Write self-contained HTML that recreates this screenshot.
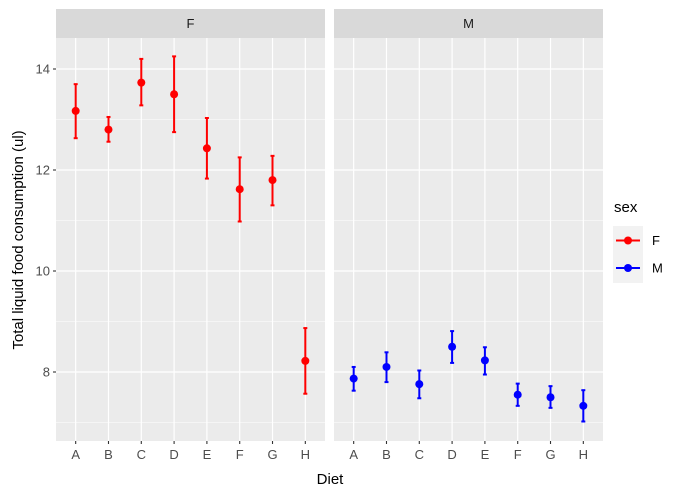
<!DOCTYPE html>
<html><head><meta charset="utf-8">
<style>
body{margin:0;background:#fff;font-family:"Liberation Sans",Arial,sans-serif;}
svg{display:block}
</style></head>
<body>
<svg id="chart" width="699" height="495" xmlns="http://www.w3.org/2000/svg"></svg>
<script>
const categories=["A","B","C","D","E","F","G","H"];
const meanF=[13.17,12.8,13.73,13.5,12.43,11.62,11.8,8.22];
const lowF=[12.63,12.56,13.28,12.75,11.83,10.98,11.3,7.57];
const highF=[13.7,13.05,14.2,14.25,13.03,12.25,12.28,8.87];
const meanM=[7.87,8.1,7.76,8.5,8.23,7.55,7.5,7.33];
const lowM=[7.63,7.8,7.48,8.18,7.95,7.33,7.29,7.02];
const highM=[8.1,8.39,8.03,8.81,8.49,7.77,7.72,7.64];
const yTicks=[8,10,12,14];
const yMinor=[7,9,11,13];

const svg=document.getElementById('chart');
const NS='http://www.w3.org/2000/svg';
function mk(tag,attrs,parent){const e=document.createElementNS(NS,tag);for(const k in attrs)e.setAttribute(k,attrs[k]);(parent||svg).appendChild(e);return e;}
const plotTop=38,plotBottom=441;
function y(v){return 372-(v-8)*50.5;}
const panels=[{name:'F',x0:56,x1:325,mean:meanF,low:lowF,high:highF,col:'#ff0000'},
              {name:'M',x0:334,x1:603,mean:meanM,low:lowM,high:highM,col:'#0000ff'}];
panels.forEach((p,pi)=>{
  const step=(p.x1-p.x0)/(categories.length-1+1.2);
  const x=i=>p.x0+(0.6+i)*step;
  const g=mk('g',{});
  
  
  const bg=mk('rect',{x:p.x0,y:plotTop,width:p.x1-p.x0,height:plotBottom-plotTop,fill:'#ebebeb'},g);
  
  
  yMinor.forEach(v=>mk('line',{x1:p.x0,x2:p.x1,y1:y(v),y2:y(v),stroke:'#fff','stroke-width':0.6},g));
  yTicks.forEach(v=>{const l=mk('line',{x1:p.x0,x2:p.x1,y1:y(v),y2:y(v),stroke:'#fff','stroke-width':1.2},g);
    
    });
  categories.forEach((c,i)=>{
    mk('line',{x1:x(i),x2:x(i),y1:plotTop,y2:plotBottom,stroke:'#fff','stroke-width':1.2},g);
    mk('line',{x1:x(i),x2:x(i),y1:plotBottom,y2:plotBottom+3,stroke:'#333','stroke-width':1.1},g);
    const t=mk('text',{x:x(i),y:plotBottom+18,'text-anchor':'middle','font-size':13,fill:'#4d4d4d'},g);
    t.textContent=c;
    
    
  });
  const strip=mk('rect',{x:p.x0,y:9,width:p.x1-p.x0,height:plotTop-9,fill:'#d9d9d9'},g);
  
  
  const st=mk('text',{x:(p.x0+p.x1)/2,y:28,'text-anchor':'middle','font-size':13,fill:'#1a1a1a'},g);
  st.textContent=p.name;
  
  
  categories.forEach((c,i)=>{
    const eb=mk('g',{stroke:p.col,'stroke-width':2},g);
    
    
    mk('line',{x1:x(i),x2:x(i),y1:y(p.low[i]),y2:y(p.high[i])},eb);
    mk('line',{x1:x(i)-2,x2:x(i)+2,y1:y(p.low[i]),y2:y(p.low[i])},eb);
    mk('line',{x1:x(i)-2,x2:x(i)+2,y1:y(p.high[i]),y2:y(p.high[i])},eb);
    const pt=mk('circle',{cx:x(i),cy:y(p.mean[i]),r:4,fill:p.col},g);
    
    
  });
});
yTicks.forEach(v=>{
  mk('line',{x1:53,x2:56,y1:y(v),y2:y(v),stroke:'#333','stroke-width':1.1});
  const t=mk('text',{x:50,y:y(v)+4.5,'text-anchor':'end','font-size':13,fill:'#4d4d4d'});
  t.textContent=v;
  
  
});
</script>
<svg style="position:absolute;left:0;top:0" width="699" height="495" xmlns="http://www.w3.org/2000/svg">
<text transform="translate(23,240) rotate(-90)" text-anchor="middle" font-size="15" fill="#000">Total liquid food consumption (ul)</text>
<text x="330" y="484" text-anchor="middle" font-size="15" fill="#000">Diet</text>
<g>
<text x="614" y="212" font-size="15" fill="#000">sex</text>
<g>
<rect x="613" y="226" width="30" height="29" fill="#f2f2f2"/>
<line x1="616" x2="640" y1="240.5" y2="240.5" stroke="#ff0000" stroke-width="2"/>
<circle cx="628" cy="240.5" r="4" fill="#ff0000"/>
<text x="652" y="245" font-size="13" fill="#000">F</text>
</g>
<g>
<rect x="613" y="254" width="30" height="29" fill="#f2f2f2"/>
<line x1="616" x2="640" y1="268" y2="268" stroke="#0000ff" stroke-width="2"/>
<circle cx="628" cy="268" r="4" fill="#0000ff"/>
<text x="652" y="272.5" font-size="13" fill="#000">M</text>
</g>
</g>
</svg>
</body></html>
